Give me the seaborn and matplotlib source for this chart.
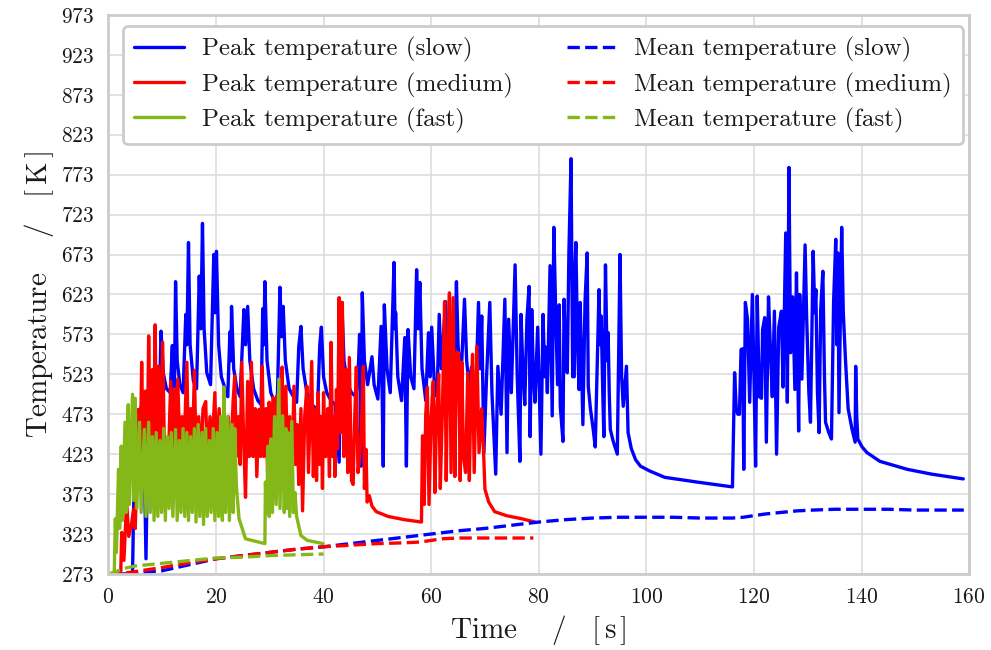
import matplotlib
matplotlib.use("Agg")
import matplotlib.pyplot as plt
import seaborn as sns
import numpy as np

# ---------------- data ----------------
slow_peak_t = [0, 4.5, 4.8, 5.2, 5.7, 6.1, 6.6, 7.0, 7.4, 7.9, 8.5, 9.0, 9.3, 9.6, 9.8, 10.2, 10.8, 11.5,
               11.9, 12.1, 12.3, 12.5, 12.8, 13.3, 13.9, 14.4, 14.6, 14.9, 15.2, 15.8, 16.4, 16.9, 17.2, 17.5,
               17.8, 18.3, 19.0, 19.6, 19.8, 20.1, 20.5, 21.0, 21.7, 22.2, 22.6, 22.8, 22.9, 23.3, 23.9, 24.5,
               25.2, 25.5, 25.9, 26.3, 27.0, 27.8, 28.4, 28.7, 28.9, 29.1, 29.5, 30.2, 30.8, 31.4, 31.9, 32.2,
               32.5, 32.9, 33.6, 34.4, 35.0, 35.4, 35.8, 36.2, 36.9, 37.6, 38.3, 38.9, 39.3, 39.6, 40.0, 40.6,
               41.4, 42.2, 42.9, 43.1, 43.4, 43.8, 44.5, 45.2, 46.0, 46.4, 46.7, 47.0, 47.2, 47.6, 48.2, 49.0,
               49.4, 50.1, 50.7, 51.1, 51.3, 51.8, 52.4, 53.1, 53.3, 53.4, 53.8, 54.5, 55.1, 55.4, 55.7, 56.2,
               56.8, 57.3, 57.6, 57.9, 58.3, 59.0, 59.5, 59.8, 60.1, 60.6, 61.1, 61.5, 61.9, 62.7, 63.1, 63.8,
               64.2, 64.7, 65.0, 65.5, 66.2, 66.6, 67.1, 67.5, 67.9, 68.3, 68.8, 69.1, 69.4, 69.8, 70.3, 70.9,
               71.3, 72.0, 72.4, 73.0, 73.7, 74.1, 74.4, 74.9, 75.6, 76.0, 76.5, 76.7, 77.1, 77.4, 77.8, 78.2,
               78.4, 78.7, 79.0, 79.3, 79.8, 80.4, 80.8, 81.1, 81.3, 81.6, 81.9, 82.1, 82.5, 82.8, 83.2, 83.5,
               83.8, 84.0, 84.5, 84.7, 85.0, 85.3, 85.6, 86.0, 86.3, 86.6, 86.7, 86.9, 87.2, 87.5, 87.7, 88.0,
               88.2, 88.6, 89.0, 89.2, 89.6, 90.1, 90.5, 91.2, 91.4, 91.6, 91.9, 92.1, 92.4, 92.7, 92.9, 93.1,
               93.3, 93.8, 94.6, 95.1, 95.4, 95.7, 96.3, 96.6, 97.2, 98.0, 98.9, 100.6, 103.4, 109.5, 116.0,
               116.4, 116.7, 117.0, 117.3, 117.6, 117.9, 118.1, 118.4, 118.8, 119.2, 119.7, 120.0, 120.3, 120.6,
               121.0, 121.4, 121.6, 122.0, 122.3, 122.7, 123.1, 123.4, 123.8, 124.2, 124.6, 125.1, 125.4, 125.9,
               126.2, 126.5, 126.8, 127.2, 127.6, 127.9, 128.3, 128.5, 128.9, 129.5, 129.8, 130.2, 130.5, 131.0,
               131.3, 131.5, 131.8, 132.1, 132.4, 132.8, 133.1, 133.3, 133.9, 134.4, 134.8, 135.2, 135.4, 135.6,
               135.8, 136.3, 136.6, 137.0, 137.5, 138.2, 138.8, 138.9, 139.1, 139.3, 140.1, 141.0, 143.4, 148.5,
               153.0, 158.9]
slow_peak_T = [273, 273, 395, 470, 440, 482, 450, 292, 470, 505, 485, 500, 383, 520, 577, 525, 505, 500,
               559, 390, 520, 639, 540, 510, 500, 598, 560, 688, 560, 515, 505, 646, 580, 712,
               580, 525, 510, 673, 600, 677, 560, 520, 505, 495, 576, 540, 608, 530, 505, 495,
               604, 560, 608, 540, 505, 490, 485, 605, 560, 639, 540, 500, 490, 488, 632, 570,
               608, 540, 505, 495, 488, 558, 583, 530, 500, 490, 480, 483, 560, 582, 520, 500,
               490, 485, 413, 500, 613, 540, 510, 500, 495, 520, 573, 408, 625, 540, 510, 545,
               510, 492, 583, 408, 610, 530, 500, 663, 580, 600, 520, 490, 569, 408, 579, 520,
               505, 654, 580, 638, 530, 490, 575, 520, 582, 510, 495, 598, 530, 614, 530, 500,
               490, 639, 560, 510, 617, 540, 505, 532, 490, 500, 613, 530, 596, 425, 520, 613,
               500, 398, 533, 473, 617, 425, 592, 500, 660, 520, 414, 598, 520, 485, 592, 633,
               445, 604, 520, 488, 582, 423, 598, 520, 557, 500, 598, 659, 471, 707, 585, 510,
               610, 483, 439, 617, 540, 525, 675, 793, 520, 520, 650, 688, 560, 504, 613, 520,
               460, 614, 675, 508, 480, 455, 432, 629, 560, 596, 500, 445, 660, 540, 575, 500,
               454, 440, 423, 673, 520, 483, 533, 450, 430, 416, 408, 402, 394, 388, 382,
               525, 480, 473, 473, 554, 555, 404, 613, 592, 488, 623, 520, 408, 621,
               495, 493, 579, 594, 438, 620, 546, 495, 602, 423, 582, 602, 507, 700,
               488, 782, 550, 620, 504, 650, 452, 623, 517, 685, 592, 500, 463, 677,
               600, 629, 500, 450, 604, 652, 520, 463, 450, 442, 614, 692, 560, 675,
               475, 707, 600, 542, 480, 455, 438, 533, 470, 442, 432, 425, 414, 404,
               398, 392]

medium_peak_t = [0, 2.3, 2.5, 2.9, 3.4, 3.8, 4.3, 4.7, 5.0, 5.3, 5.6, 5.9, 6.2, 6.5, 6.9, 7.2, 7.5, 7.8,
                 8.2, 8.4, 8.7, 9.0, 9.3, 9.6, 10.1, 10.4, 10.8, 11.1, 11.6, 11.9, 12.3, 12.6, 12.9, 13.3,
                 13.7, 14.0, 14.6, 14.9, 15.3, 15.6, 16.0, 16.3, 16.8, 17.2, 17.6, 18.1, 18.4, 18.9, 19.2,
                 19.8, 20.1, 20.6, 21.0, 21.5, 21.8, 22.3, 22.7, 23.2, 23.5, 23.8, 24.2, 24.5, 24.8, 25.2,
                 25.5, 25.9, 26.2, 26.6, 26.9, 27.3, 27.6, 28.0, 28.3, 28.6, 28.9, 29.3, 29.6, 29.9, 30.2,
                 30.6, 30.9, 31.3, 31.7, 32.0, 32.3, 32.6, 33.0, 33.3, 33.7, 34.1, 34.5, 34.8, 35.1, 35.4,
                 35.8, 36.1, 36.5, 36.9, 37.2, 37.5, 37.8, 38.1, 38.5, 38.7, 39.0, 39.3, 39.6, 39.8, 40.0,
                 40.4, 40.8, 41.1, 41.4, 41.7, 42.0, 42.1, 42.4, 42.6, 42.9, 43.2, 43.5, 43.8, 44.2, 44.5,
                 44.8, 45.2, 45.5, 45.8, 46.1, 46.4, 46.7, 47.0, 47.4, 47.6, 47.9, 48.1, 48.5, 49.0, 49.8,
                 52.0, 55.0, 58.2, 58.4, 58.7, 59.0, 59.3, 59.6, 60.0, 60.4, 60.7, 61.0, 61.4, 61.7, 62.1,
                 62.5, 62.8, 63.1, 63.4, 63.7, 64.1, 64.4, 64.7, 65.1, 65.4, 65.7, 66.0, 66.4, 66.8, 67.1,
                 67.4, 67.7, 68.0, 68.5, 68.9, 69.4, 69.7, 70.0, 70.7, 71.8, 74.0, 76.9, 79.3]
medium_peak_T = [273, 273, 325, 290, 363, 320, 335, 354, 330, 400, 479, 400, 538, 420, 502, 400, 571, 440,
                 529, 430, 585, 430, 533, 425, 563, 440, 442, 404, 514, 430, 505, 420, 517, 430,
                 470, 415, 538, 420, 480, 415, 528, 425, 470, 410, 480, 489, 415, 470, 420,
                 500, 415, 480, 410, 485, 420, 470, 410, 490, 521, 420, 470, 410, 538, 430,
                 369, 514, 420, 538, 420, 480, 395, 479, 420, 533, 420, 480, 400, 488, 420,
                 494, 410, 496, 400, 470, 532, 410, 508, 395, 470, 390, 508, 410, 460, 385,
                 480, 352, 470, 508, 400, 470, 539, 395, 480, 390, 500, 410, 470, 380, 500,
                 420, 480, 395, 563, 420, 470, 395, 504, 430, 619, 450, 613, 420, 529, 400,
                 544, 390, 385, 470, 532, 400, 417, 450, 533, 380, 429, 363, 371, 358, 351,
                 345, 341, 338, 446, 360, 474, 507, 360, 470, 514, 375, 470, 523, 380, 480,
                 614, 390, 540, 625, 400, 619, 395, 550, 550, 390, 538, 420, 400, 525, 390,
                 500, 548, 400, 558, 425, 480, 433, 379, 363, 351, 346, 342, 338]

fast_peak_t = [0, 1.1, 1.3, 1.5, 1.9, 2.1, 2.4, 2.6, 3.1, 3.3, 3.7, 3.9, 4.5, 4.7, 5.0, 5.3, 5.8, 6.1,
               6.7, 7.0, 7.5, 7.8, 8.2, 8.5, 8.9, 9.2, 9.6, 9.9, 10.3, 10.6, 11.0, 11.3, 11.7, 12.0, 12.5,
               12.8, 13.2, 13.5, 13.9, 14.2, 14.6, 14.9, 15.3, 15.6, 16.0, 16.3, 16.7, 17.0, 17.4, 17.7,
               18.1, 18.4, 18.8, 19.1, 19.5, 19.8, 20.2, 20.5, 20.9, 21.2, 21.5, 21.8, 22.2, 22.5, 22.9,
               23.2, 23.5, 23.8, 24.3, 25.5, 29.1, 29.2, 29.4, 29.7, 29.9, 30.2, 30.5, 30.9, 31.2, 31.7,
               31.9, 32.4, 32.7, 33.0, 33.2, 33.4, 33.7, 34.1, 34.4, 34.7, 35.0, 35.8, 37.0, 39.9]
fast_peak_T = [273, 273, 342, 300, 404, 330, 433, 340, 463, 350, 485, 360, 498, 365, 493, 355, 463, 350,
               454, 345, 463, 350, 445, 340, 450, 345, 440, 350, 455, 340, 445, 355, 450, 345, 454,
               340, 440, 350, 455, 345, 450, 340, 445, 350, 455, 338, 460, 345, 450, 335,
               455, 345, 440, 350, 455, 340, 450, 345, 470, 340, 507, 350, 470, 340, 460,
               350, 455, 383, 342, 317, 311, 388, 350, 433, 345, 442, 350, 470, 360, 517,
               355, 471, 350, 455, 355, 450, 345, 464, 350, 375, 345, 321, 315, 311]

slow_mean_t = [0, 4, 6, 8, 10, 12, 14, 16, 18, 20, 25, 30, 35, 40, 45, 50, 55, 60, 65, 70, 75, 80, 85,
               90, 95, 100, 105, 110, 116, 118, 120, 122, 125, 128, 131, 135, 140, 145, 150, 155, 159]
slow_mean_T = [273, 273, 274, 276, 277, 280, 283, 286, 289, 292, 296, 300, 304, 307, 311, 315, 319, 323,
               327, 330, 334, 338, 341, 343, 344, 344, 344, 343, 343, 344, 346, 348, 350, 352, 353, 354,
               354, 354, 353, 353, 353]

medium_mean_t = [0, 3, 5, 8, 10, 15, 20, 25, 30, 35, 40, 45, 50, 55, 58, 60, 62, 65, 70, 75, 79]
medium_mean_T = [273, 274, 276, 279, 281, 287, 292, 296, 300, 304, 307, 309, 311, 312, 313, 315, 317,
                 318, 318, 318, 318]

fast_mean_t = [0, 1.5, 3, 5, 8, 11, 14, 17, 20, 25, 30, 35, 40]
fast_mean_T = [273, 276, 280, 283, 285, 287, 289, 291, 293, 294, 296, 297, 298]

x_ticks = [0, 20, 40, 60, 80, 100, 120, 140, 160]
y_ticks = [273, 323, 373, 423, 473, 523, 573, 623, 673, 723, 773, 823, 873, 923, 973]

labels = ["Peak temperature (slow)", "Peak temperature (medium)", "Peak temperature (fast)",
          "Mean temperature (slow)", "Mean temperature (medium)", "Mean temperature (fast)"]

# ---------------- style ----------------
sns.set_theme(style="whitegrid")
plt.rcParams["font.family"] = "serif"
plt.rcParams["font.serif"] = ["cmr10", "DejaVu Serif"]
plt.rcParams["mathtext.fontset"] = "cm"
plt.rcParams["axes.formatter.use_mathtext"] = True
plt.rcParams["axes.unicode_minus"] = False

BLUE = "#0000ff"
RED = "#ff0000"
GREEN = "#84b819"

fig, ax = plt.subplots(figsize=(9.91, 6.5), dpi=100)
fig.subplots_adjust(left=0.1093, right=0.978, bottom=0.117, top=0.977)

lw = 2.4
series = [
    (slow_peak_t, slow_peak_T, BLUE, "-"),
    (medium_peak_t, medium_peak_T, RED, "-"),
    (fast_peak_t, fast_peak_T, GREEN, "-"),
    (slow_mean_t, slow_mean_T, BLUE, "--"),
    (medium_mean_t, medium_mean_T, RED, "--"),
    (fast_mean_t, fast_mean_T, GREEN, "--"),
]
for (tx, ty, c, ls), lab in zip(series, labels):
    kw = dict(dashes=(5, 3)) if ls == "--" else {}
    sns.lineplot(x=tx, y=ty, ax=ax, color=c, lw=lw, estimator=None, sort=False,
                 label=lab, linestyle=ls, **kw)

ax.set_xlim(0, 160)
ax.set_ylim(273, 973)
ax.set_xticks(x_ticks)
ax.set_yticks(y_ticks)
ax.tick_params(axis="both", labelsize=15.5, colors="#1a1a1a", pad=4)

ax.set_xlabel(r"Time $\quad/\quad[\,\mathrm{s}\,]$", fontsize=21, color="#1a1a1a")
ax.set_ylabel(r"Temperature $\quad/\quad[\,\mathrm{K}\,]$", fontsize=21, color="#1a1a1a")

for sp in ax.spines.values():
    sp.set_color("#cccccc")
    sp.set_linewidth(2.0)
ax.grid(True, color="#dddddd", linewidth=1.2)

leg = ax.legend(loc="upper left", bbox_to_anchor=(0.017, 0.0, 0.976, 0.98), mode="expand",
                ncol=2, fontsize=18, handlelength=2.0, handletextpad=0.7, frameon=True, fancybox=True,
                borderaxespad=0.0, labelspacing=0.4, framealpha=1.0, borderpad=0.45)
leg.get_frame().set_edgecolor("#cccccc")
leg.get_frame().set_linewidth(2.0)
for txt in leg.get_texts():
    txt.set_color("#1a1a1a")

fig.savefig("out.png", dpi=100)
